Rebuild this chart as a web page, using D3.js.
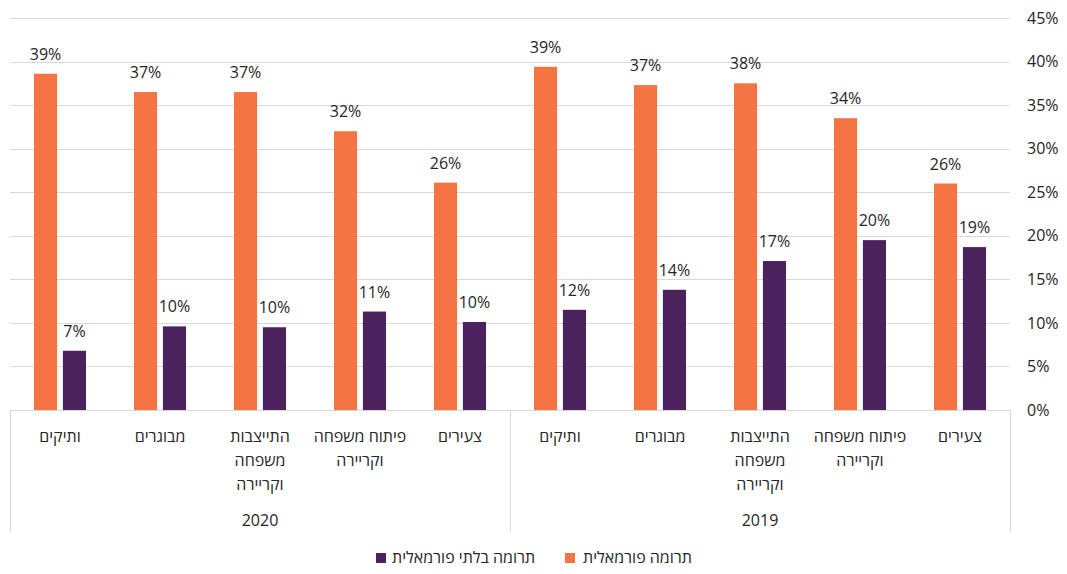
<!DOCTYPE html>
<html>
<head>
<meta charset="utf-8">
<script src="https://cdn.jsdelivr.net/npm/d3@7"></script>
<style>
  html, body { margin: 0; padding: 0; background: #fff; }
  svg { display: block; font-family: "Open Sans", "Liberation Sans", sans-serif; }
</style>
</head>
<body>
<svg id="chart" width="1067" height="574"></svg>
<script>
// ---- data ----
const years = ["2020", "2019"];                       // left to right on screen
const categories = ["ותיקים", "מבוגרים", "התייצבות משפחה וקריירה", "פיתוח משפחה וקריירה", "צעירים"]; // left to right in each year
const categoryLines = [["ותיקים"], ["מבוגרים"], ["התייצבות", "משפחה", "וקריירה"], ["פיתוח משפחה", "וקריירה"], ["צעירים"]];
const seriesNames = ["תרומה פורמאלית", "תרומה בלתי פורמאלית"];
const formal2020 = [38.6, 36.5, 36.5, 32.0, 26.1];
const informal2020 = [6.8, 9.6, 9.5, 11.3, 10.1];
const formal2019 = [39.4, 37.3, 37.5, 33.5, 26.0];
const informal2019 = [11.5, 13.8, 17.1, 19.5, 18.7];
const formalLabels2020 = ["39%", "37%", "37%", "32%", "26%"];
const informalLabels2020 = ["7%", "10%", "10%", "11%", "10%"];
const formalLabels2019 = ["39%", "37%", "38%", "34%", "26%"];
const informalLabels2019 = ["12%", "14%", "17%", "20%", "19%"];
const yTicks = [0, 5, 10, 15, 20, 25, 30, 35, 40, 45];
const colors = ["#F47443", "#4B215E"];

// ---- build rows ----
const valuesByYear = {
  "2020": [formal2020, informal2020, formalLabels2020, informalLabels2020],
  "2019": [formal2019, informal2019, formalLabels2019, informalLabels2019]
};
const rows = [];
years.forEach(yr => {
  categories.forEach((c, i) => {
    const v = valuesByYear[yr];
    rows.push({
      key: yr + "|" + c, year: yr, cat: c, lines: categoryLines[i],
      vals: [
        { s: seriesNames[0], v: v[0][i], label: v[2][i], si: 0 },
        { s: seriesNames[1], v: v[1][i], label: v[3][i], si: 1 }
      ]
    });
  });
});

const svg = d3.select("#chart");
const plotLeft = 10, plotRight = 1010, plotTop = 18, plotBottom = 410;

const x0 = d3.scaleBand().domain(rows.map(r => r.key)).range([plotLeft, plotRight]).paddingInner(0).paddingOuter(0);
const x1 = d3.scaleBand().domain(seriesNames).range([0, x0.bandwidth()]).paddingInner(0.2).paddingOuter(0.83);
const y = d3.scaleLinear().domain([0, 45]).range([plotBottom, plotTop]);

// gridlines
svg.append("g").selectAll("line").data(yTicks.filter(t => t > 0)).join("line")
  .attr("x1", plotLeft).attr("x2", plotRight)
  .attr("y1", d => Math.round(y(d)) + 0.5).attr("y2", d => Math.round(y(d)) + 0.5)
  .attr("stroke", "#d9d9d9").attr("stroke-width", 1);

// right axis labels
const yAxis = d3.axisRight(y).tickValues(yTicks).tickSize(0).tickPadding(0).tickFormat(d => d + "%");
const ya = svg.append("g").attr("transform", `translate(1027,0)`).call(yAxis);
ya.select(".domain").remove();
ya.selectAll("text").attr("font-size", 16).attr("fill", "#262626").attr("font-family", "\"Open Sans\", sans-serif");

// bars
const groups = svg.append("g").selectAll("g").data(rows).join("g")
  .attr("transform", d => `translate(${x0(d.key)},0)`);
groups.selectAll("rect").data(d => d.vals).join("rect")
  .attr("x", d => x1(d.s)).attr("width", x1.bandwidth())
  .attr("y", d => y(d.v)).attr("height", d => y(0) - y(d.v))
  .attr("fill", d => colors[d.si]);
groups.selectAll("text.val").data(d => d.vals).join("text")
  .attr("class", "val")
  .attr("x", d => x1(d.s) + x1.bandwidth() / 2)
  .attr("y", d => y(d.v) - 14)
  .attr("text-anchor", "middle")
  .attr("font-size", 16).attr("fill", "#262626")
  .text(d => d.label);

// category axis box
const axisG = svg.append("g");
axisG.append("line").attr("x1", plotLeft).attr("x2", plotRight).attr("y1", plotBottom + 0.5).attr("y2", plotBottom + 0.5)
  .attr("stroke", "#d9d9d9");
const groupEdges = [plotLeft, x0(years[1] + "|" + categories[0]), plotRight];
axisG.selectAll("line.v").data(groupEdges).join("line").attr("class", "v")
  .attr("x1", d => d + 0.5).attr("x2", d => d + 0.5)
  .attr("y1", plotBottom).attr("y2", 532)
  .attr("stroke", "#d9d9d9");

// category labels
const catText = axisG.selectAll("text.cat").data(rows).join("text").attr("class", "cat")
  .attr("text-anchor", "middle").attr("font-size", 16).attr("fill", "#262626")
  .attr("x", d => x0(d.key) + x0.bandwidth() / 2);
catText.selectAll("tspan").data(d => d.lines.map(l => ({ l, x: x0(d.key) + x0.bandwidth() / 2 }))).join("tspan")
  .attr("x", d => d.x)
  .attr("y", (d, i) => 442 + i * 24)
  .text(d => d.l);

// year labels
axisG.selectAll("text.year").data(years).join("text").attr("class", "year")
  .attr("text-anchor", "middle").attr("font-size", 16).attr("fill", "#262626")
  .attr("x", (d, i) => (groupEdges[i] + groupEdges[i + 1]) / 2)
  .attr("y", 526)
  .text(d => d);

// legend
const legendItems = [
  { name: seriesNames[0], color: colors[0], sx: 565, tx: 583 },
  { name: seriesNames[1], color: colors[1], sx: 376, tx: 392 }
];
const lg = svg.append("g").selectAll("g").data(legendItems).join("g");
lg.append("rect").attr("x", d => d.sx).attr("y", 553).attr("width", 10).attr("height", 10).attr("fill", d => d.color);
lg.append("text").attr("x", d => d.tx).attr("y", 563).attr("font-size", 16).attr("fill", "#262626")
  .attr("text-anchor", "start").text(d => d.name);
</script>
</body>
</html>
